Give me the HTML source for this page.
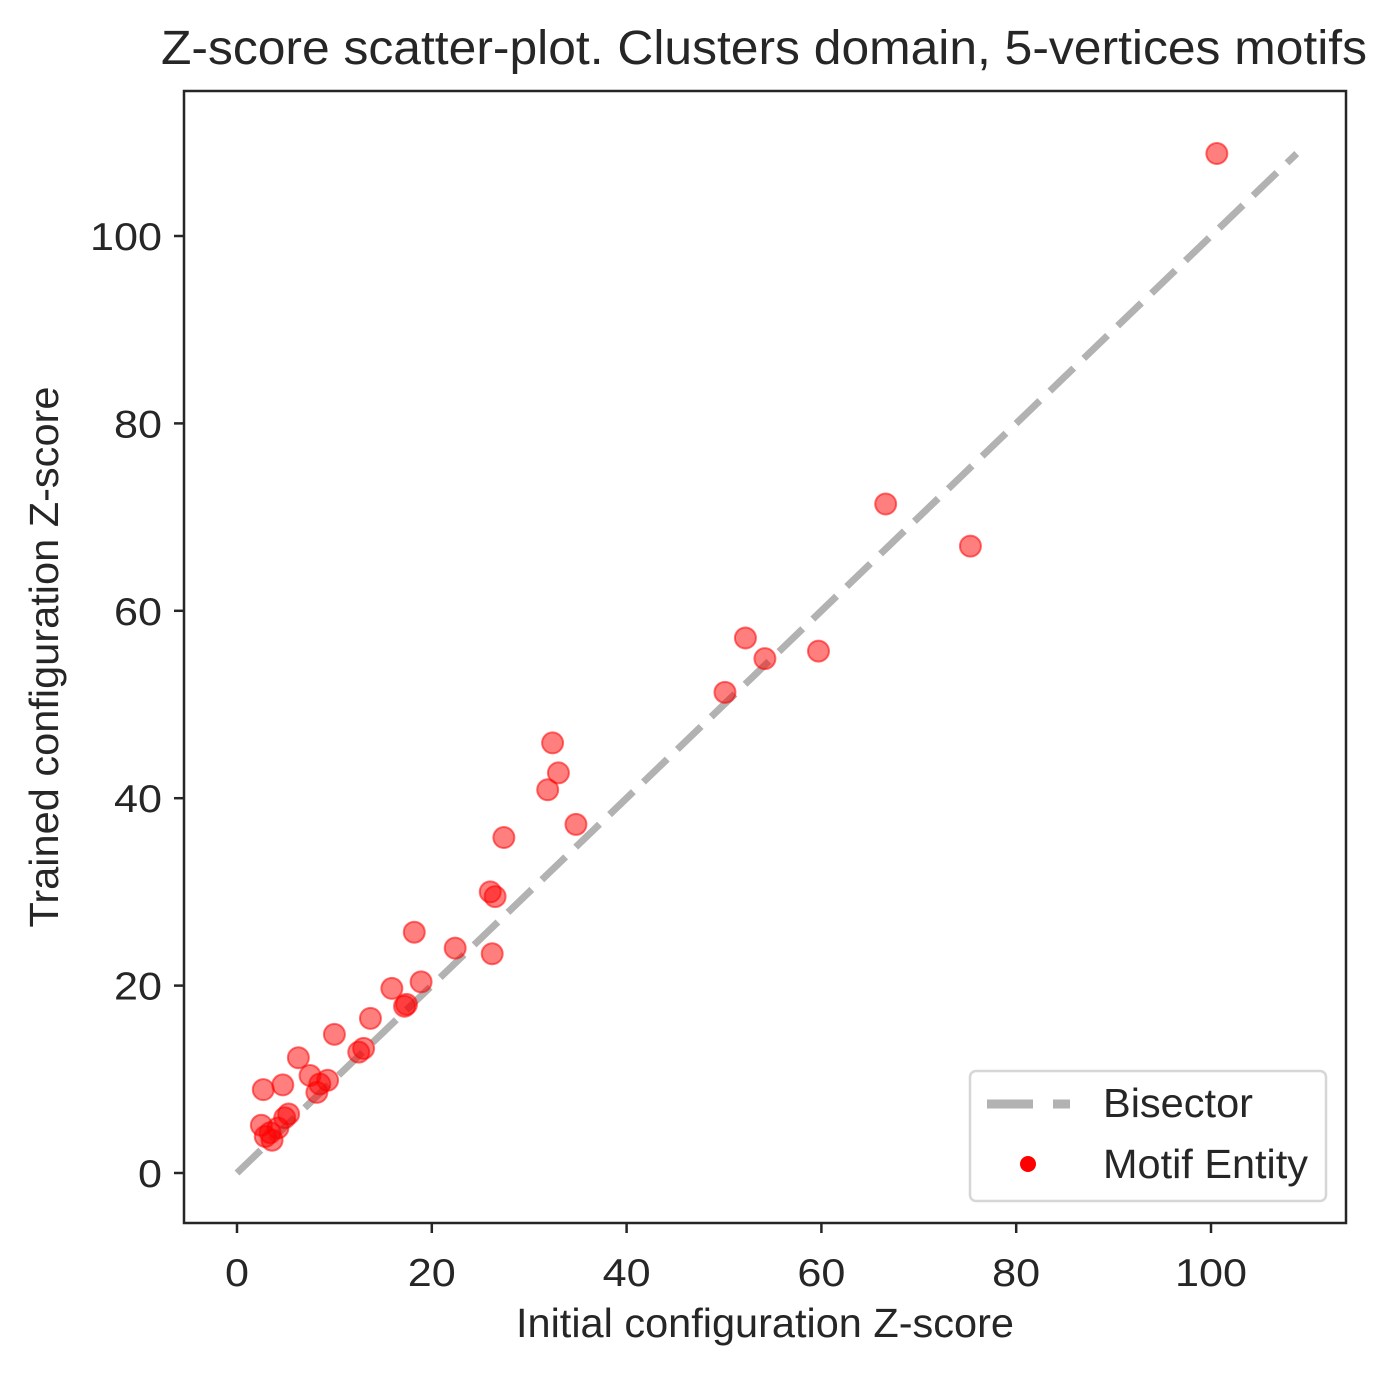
<!DOCTYPE html>
<html><head><meta charset="utf-8"><style>
html,body{margin:0;padding:0;background:#fff;}
svg{display:block;font-family:"Liberation Sans",Arial,sans-serif;}
</style></head><body>
<svg id="chart" width="1400" height="1376" viewBox="0 0 1400 1376">
<rect x="0" y="0" width="1400" height="1376" fill="#fff"/>
<text x="764" y="64" font-size="48" text-anchor="middle" fill="#262626" textLength="1206" lengthAdjust="spacingAndGlyphs">Z-score scatter-plot. Clusters domain, 5-vertices motifs</text>
<g id="grid"></g>
<g id="marks"></g>
<rect x="184" y="91" width="1162" height="1132" fill="none" stroke="#262626" stroke-width="2.5"/>
<text x="765" y="1337" font-size="41" text-anchor="middle" fill="#262626" textLength="498" lengthAdjust="spacingAndGlyphs">Initial configuration Z-score</text>
<text transform="translate(58,657) rotate(-90)" font-size="41" text-anchor="middle" fill="#262626" textLength="541" lengthAdjust="spacingAndGlyphs">Trained configuration Z-score</text>
<g>
<rect x="970" y="1071" width="356" height="130" rx="6" fill="#fff" stroke="#d6d6d6" stroke-width="2.5"/>
<line x1="987" y1="1104" x2="1070" y2="1104" stroke="#b2b2b2" stroke-width="9" stroke-dasharray="46,20"/>
<text x="1103" y="1117" font-size="41" fill="#262626" textLength="150" lengthAdjust="spacingAndGlyphs">Bisector</text>
<circle cx="1028" cy="1164" r="8" fill="#ff0000"/>
<text x="1103" y="1178" font-size="41" fill="#262626" textLength="205" lengthAdjust="spacingAndGlyphs">Motif Entity</text>
</g>
</svg>
<script>
const xVals=[100.6,66.6,75.3,52.2,54.2,59.7,50.1,32.4,33.0,31.9,34.8,27.4,26.0,26.5,26.2,22.4,18.2,18.9,15.9,17.4,17.2,13.7,10.0,13.0,12.5,6.3,7.5,9.3,8.5,8.2,2.7,4.7,2.5,5.3,4.9,4.2,3.4,3.6,2.9];
const yVals=[108.8,71.4,66.9,57.1,54.9,55.7,51.3,45.9,42.7,40.9,37.2,35.8,30.0,29.5,23.4,24.0,25.7,20.4,19.7,18.0,17.8,16.5,14.8,13.3,12.9,12.3,10.4,9.9,9.5,8.6,8.9,9.4,5.1,6.3,5.9,4.8,4.3,3.5,3.9];
const xTicks=[0,20,40,60,80,100];
const yTicks=[0,20,40,60,80,100];
const bisectorRange=[0,108.8];
const sx=v=>237+v*9.74;
const sy=v=>1173-v*9.37;
const NS="http://www.w3.org/2000/svg";
const grid=document.getElementById('grid');
const marks=document.getElementById('marks');
function mk(tag,attrs,parent){const e=document.createElementNS(NS,tag);for(const k in attrs)e.setAttribute(k,attrs[k]);parent.appendChild(e);return e;}
xTicks.forEach(t=>{
  const l=mk('line',{x1:sx(t),x2:sx(t),y1:1223,y2:1233,stroke:'#262626','stroke-width':2.5},grid);
  
  
  const s=String(t);
  const tx=mk('text',{x:sx(t),y:1286,'font-size':39,'text-anchor':'middle',fill:'#262626',textLength:s.length*24,lengthAdjust:'spacingAndGlyphs'},grid);
  tx.textContent=s;
  
  
});
yTicks.forEach(t=>{
  const l=mk('line',{x1:174,x2:184,y1:sy(t),y2:sy(t),stroke:'#262626','stroke-width':2.5},grid);
  
  
  const s=String(t);
  const tx=mk('text',{x:162,y:sy(t)+14,'font-size':39,'text-anchor':'end',fill:'#262626',textLength:s.length*24,lengthAdjust:'spacingAndGlyphs'},grid);
  tx.textContent=s;
  
  
});
const bl=mk('line',{x1:sx(bisectorRange[0]),y1:sy(bisectorRange[0]),x2:sx(bisectorRange[1]),y2:sy(bisectorRange[1]),stroke:'#b2b2b2','stroke-width':7,'stroke-dasharray':'33,14'},marks);


xVals.forEach((x,i)=>{
  const c=mk('circle',{cx:sx(x),cy:sy(yVals[i]),r:10.5,fill:'rgba(255,0,0,0.5)',stroke:'rgba(255,0,0,0.55)','stroke-width':2},marks);
  
  
});
</script>
</body></html>
